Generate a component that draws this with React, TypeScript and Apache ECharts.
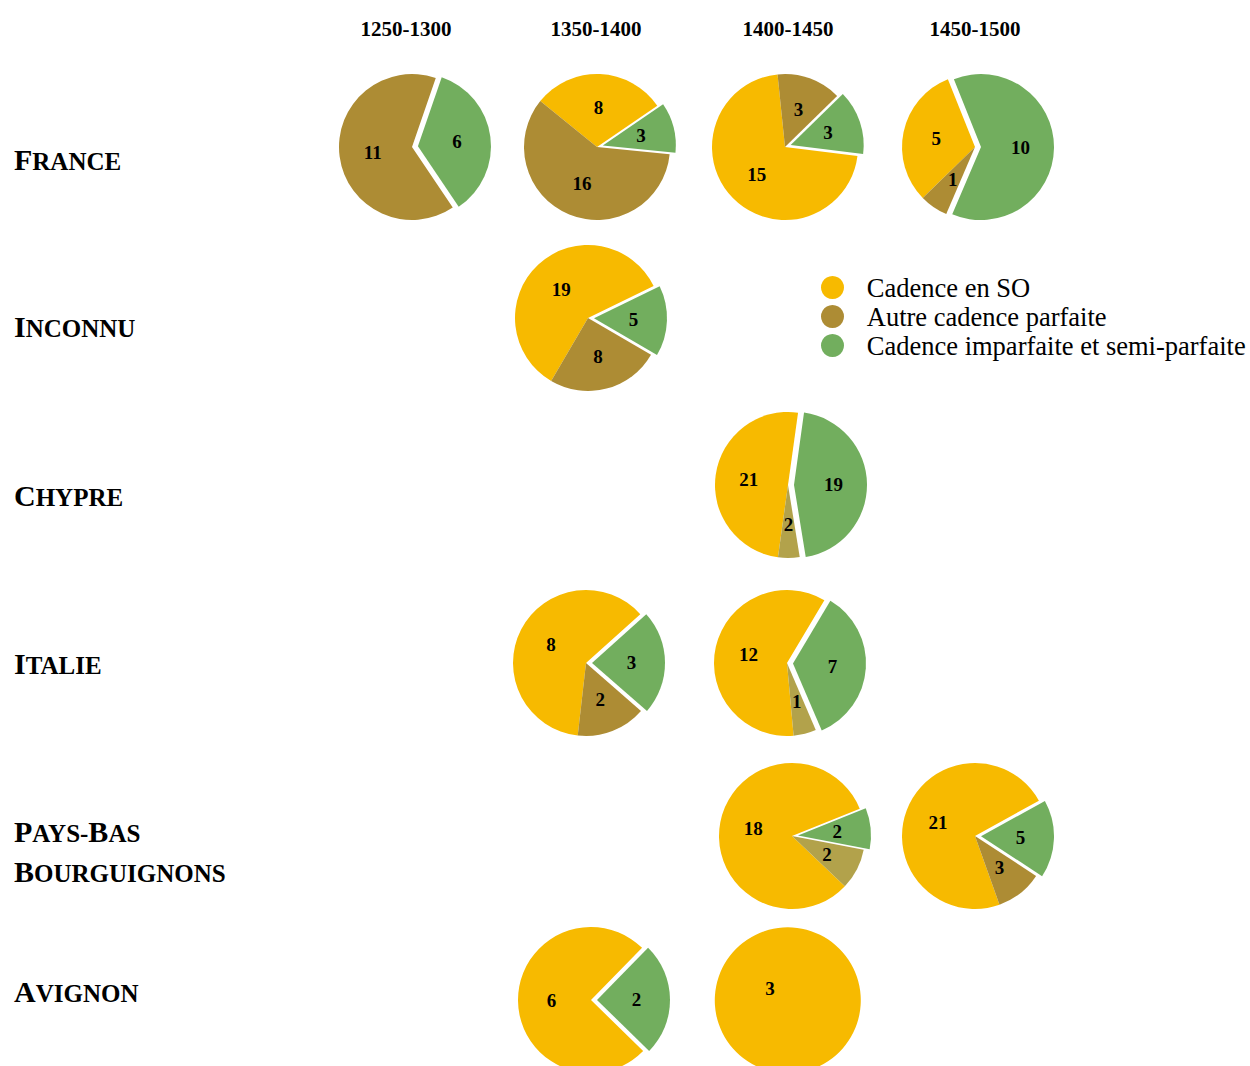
import React, { useEffect, useRef } from "react";
import * as echarts from "echarts";

// ---- Data ----
const periods = ["1250-1300", "1350-1400", "1400-1450", "1450-1500"];
const regions = ["France", "Inconnu", "Chypre", "Italie", "Pays-Bas Bourguignons", "Avignon"];
const categories = ["Cadence en SO", "Autre cadence parfaite", "Cadence imparfaite et semi-parfaite"];

// rows = regions, columns = periods; null = no pie
const cadenceSO = [
  [0, 8, 15, 5],
  [null, 19, null, null],
  [null, null, 21, null],
  [null, 8, 12, null],
  [null, null, 18, 21],
  [null, 6, 3, null],
];
const autreParfaite = [
  [11, 16, 3, 1],
  [null, 8, null, null],
  [null, null, 2, null],
  [null, 2, 1, null],
  [null, null, 2, 3],
  [null, 0, 0, null],
];
const imparfaite = [
  [6, 3, 3, 10],
  [null, 5, null, null],
  [null, null, 19, null],
  [null, 3, 7, null],
  [null, null, 2, 5],
  [null, 2, 0, null],
];

// ---- Layout & style ----
const COLORS = ["#F7BA00", "#AD8C34", "#72AE5E"];
const OLIVE = "#B2A24B";
const FONT = "'Liberation Serif', 'Times New Roman', serif";
const RADIUS = 73;
const rowY = [147, 318, 485, 663, 836, 1000];
const rowBaselines = [[169], [336], [505], [673], [841, 881], [1001]];
const headerX = [406, 596, 788, 975];
// start: angle of first slice, degrees clockwise from 12 o'clock
const pieLayout: Record<string, { cx: number; start: number; order: number[]; olive?: boolean }> = {
  "0-0": { cx: 412, start: 19, order: [0, 2, 1] },
  "0-1": { cx: 597, start: 309, order: [0, 2, 1] },
  "0-2": { cx: 785, start: 97, order: [0, 1, 2] },
  "0-3": { cx: 975, start: 225.7, order: [0, 2, 1] },
  "1-1": { cx: 588, start: 210.3, order: [0, 2, 1] },
  "2-2": { cx: 788, start: 187.9, order: [0, 2, 1], olive: true },
  "3-1": { cx: 586, start: 186.5, order: [0, 2, 1] },
  "3-2": { cx: 787, start: 174.8, order: [0, 2, 1], olive: true },
  "4-2": { cx: 792, start: 133.6, order: [0, 2, 1], olive: true },
  "4-3": { cx: 975, start: 160.4, order: [0, 2, 1] },
  "5-1": { cx: 591, start: 134.4, order: [0, 2, 1] },
  "5-2": { cx: 788, start: 124, order: [0, 2, 1] },
};

function smallCaps(word: string): string {
  let out = "";
  let run = "";
  for (let i = 0; i < word.length; i++) {
    const ch = word[i];
    const initial = i === 0 || word[i - 1] === "-";
    if (initial) {
      if (run) { out += `{b|${run}}`; run = ""; }
      out += `{a|${ch.toUpperCase()}}`;
    } else {
      run += ch.toUpperCase();
    }
  }
  if (run) out += `{b|${run}}`;
  return out;
}

export default function App() {
  const ref = useRef<HTMLDivElement>(null);
  useEffect(() => {
    document.body.style.margin = "0";
    if (!ref.current) return;
    const chart = echarts.init(ref.current, undefined, { renderer: "svg" });
    const valueSets = [cadenceSO, autreParfaite, imparfaite];
    const series: any[] = [];
    regions.forEach((_, r) => {
      periods.forEach((__, c) => {
        if (cadenceSO[r][c] === null) return;
        const lay = pieLayout[`${r}-${c}`];
        if (!lay) return;
        const vals = valueSets.map((s) => s[r][c] as number);
        const keys = lay.order.filter((k) => vals[k] > 0);
        const single = keys.length === 1;
        const data = keys.map((k) => ({
          name: categories[k],
          value: vals[k],
          selected: k === 2,
          itemStyle: { color: k === 1 && lay.olive ? OLIVE : COLORS[k] },
        }));
        series.push({
          type: "pie",
          center: [lay.cx, rowY[r]],
          radius: RADIUS,
          startAngle: (((90 - lay.start) % 360) + 360) % 360,
          clockwise: true,
          selectedMode: "multiple",
          selectedOffset: 6,
          avoidLabelOverlap: false,
          emphasis: { disabled: true },
          label: {
            show: true,
            position: single ? "center" : "inside",
            padding: single ? [0, 36, 0, 0] : 0,
            lineHeight: single ? 24 : undefined,
            formatter: single ? "{c}\n " : "{c}",
            fontFamily: FONT,
            fontWeight: "bold",
            fontSize: 19,
            color: "#000",
          },
          labelLine: { show: false },
          data,
        });
      });
    });

    const graphics: any[] = [];
    periods.forEach((p, c) => {
      graphics.push({
        type: "text",
        x: headerX[c],
        y: 29,
        style: {
          text: p,
          fill: "#000",
          font: `bold 21px ${FONT}`,
          align: "center",
          verticalAlign: "middle",
        },
      });
    });
    regions.forEach((name, r) => {
      const words = name.split(" ");
      words.forEach((w, i) => {
        const base = rowBaselines[r][i];
        graphics.push({
          type: "text",
          x: 14,
          y: base + 5,
          style: {
            text: smallCaps(w),
            fill: "#000",
            align: "left",
            verticalAlign: "bottom",
            rich: {
              a: { fontFamily: FONT, fontWeight: "bold", fontSize: 30, lineHeight: 30, verticalAlign: "bottom", fill: "#000", color: "#000" },
              b: { fontFamily: FONT, fontWeight: "bold", fontSize: 25, lineHeight: 25, verticalAlign: "bottom", fill: "#000", color: "#000" },
            },
          },
        });
      });
    });

    chart.setOption({
      animation: false,
      textStyle: { fontFamily: FONT },
      legend: {
        orient: "vertical",
        left: 816,
        top: 268,
        itemWidth: 58.6,
        itemHeight: 23,
        itemGap: 0,
        icon: "circle",
        selectedMode: false,
        textStyle: { fontFamily: FONT, fontSize: 26.5, lineHeight: 29, color: "#000" },
        data: categories.map((n, k) => ({ name: n, itemStyle: { color: COLORS[k] } })),
      },
      graphic: graphics,
      series,
    });
    return () => chart.dispose();
  }, []);
  return <div ref={ref} style={{ width: 1250, height: 1066 }} />;
}
